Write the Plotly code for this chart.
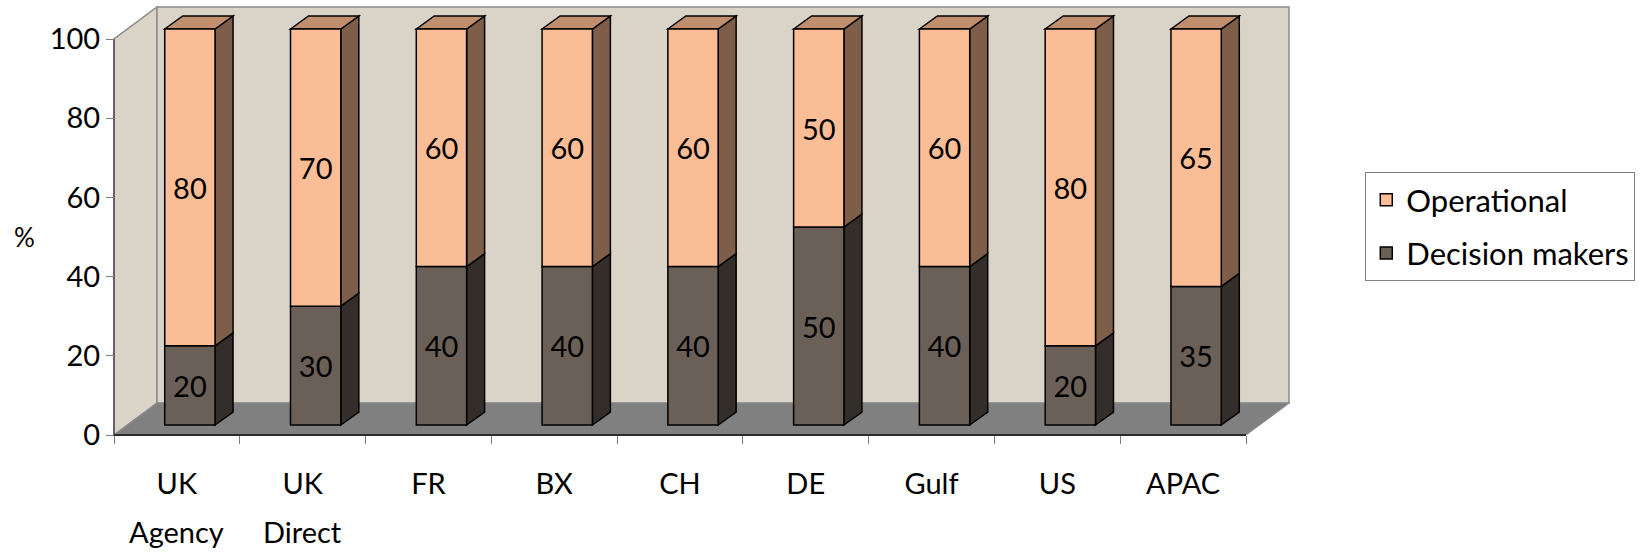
import plotly.graph_objects as go

# ---------------- data ----------------
label_line1 = ["UK", "UK", "FR", "BX", "CH", "DE", "Gulf", "US", "APAC"]
label_line2 = ["Agency", "Direct", "", "", "", "", "", "", ""]
decision_makers = [20, 30, 40, 40, 40, 50, 40, 20, 35]
operational = [80, 70, 60, 60, 60, 50, 60, 80, 65]
y_tick_vals = [0, 20, 40, 60, 80, 100]

# ---------------- style / geometry ----------------
W, H = 1644, 552
FONT = "Lato"
FS = 29
LEG_FS = 31
WALL = "#D9D3C8"
FLOOR = "#808080"
EDGE = "#8C8C8C"
OP_FRONT, OP_SIDE, OP_TOP = "#FBBD95", "#7E5E48", "#C28F6E"
DM_FRONT, DM_SIDE = "#6B6057", "#332E2A"

PX_X0 = 113.5        # pixel x of the front category boundary
PX_PER_CAT = 125.8
PX_Y0 = 435.0        # pixel y of value 0 on the front plane
PX_PER_UNIT = 3.96
WALL_DX, WALL_DY = 43, 32     # depth of the box (px)
BAR_DX, BAR_DY = 13, 10       # offset of bar front faces from the front plane (px)
SIDE_DX, SIDE_DY = 18, 13     # depth of each bar (px)
PAD = 3
BAR_WIDTH = 0.4

n = len(label_line1)
idx = list(range(n))
ymax_val = 100

wdx, wdy = WALL_DX / PX_PER_CAT, WALL_DY / PX_PER_UNIT
bdx, bdy = BAR_DX / PX_PER_CAT, BAR_DY / PX_PER_UNIT
sdx, sdy = SIDE_DX / PX_PER_CAT, SIDE_DY / PX_PER_UNIT

x_lo, x_hi = -0.5, n - 0.5
x_range = [x_lo - PAD / PX_PER_CAT, x_hi + wdx + PAD / PX_PER_CAT]
y_range = [-PAD / PX_PER_UNIT, ymax_val + wdy + PAD / PX_PER_UNIT]

left = PX_X0 - PAD
right = PX_X0 + (x_range[1] - x_lo) * PX_PER_CAT
top = PX_Y0 - y_range[1] * PX_PER_UNIT
bottom = PX_Y0 + PAD
plot_w, plot_h = right - left, bottom - top

fig = go.Figure()

dm_base = [bdy] * n
op_base = [bdy + d for d in decision_makers]

fig.add_trace(go.Bar(
    name="Decision makers", x=idx, y=decision_makers, base=dm_base,
    width=BAR_WIDTH, offset=-BAR_WIDTH / 2 + bdx,
    marker=dict(color=DM_FRONT, line=dict(color="black", width=1.5)),
    text=[str(v) for v in decision_makers], textposition="inside",
    insidetextanchor="middle", textangle=0,
    textfont=dict(family=FONT, size=FS, color="black"),
    legendgroup="dm", legendrank=2, hoverinfo="skip"))
fig.add_trace(go.Bar(
    name="Operational", x=idx, y=operational, base=op_base,
    width=BAR_WIDTH, offset=-BAR_WIDTH / 2 + bdx,
    marker=dict(color=OP_FRONT, line=dict(color="black", width=1.5)),
    text=[str(v) for v in operational], textposition="inside",
    insidetextanchor="middle", textangle=0,
    textfont=dict(family=FONT, size=FS, color="black"),
    legendgroup="op", legendrank=1, hoverinfo="skip"))


def poly(pts):
    return "M " + " L ".join(f"{x},{y}" for x, y in pts) + " Z"


shapes = []
# left wall
shapes.append(dict(type="path", layer="below", xref="x", yref="y",
                   path=poly([(x_lo, 0), (x_lo, ymax_val), (x_lo + wdx, ymax_val + wdy), (x_lo + wdx, wdy)]),
                   fillcolor=WALL, line=dict(color=EDGE, width=1.5)))
# back wall
shapes.append(dict(type="path", layer="below", xref="x", yref="y",
                   path=poly([(x_lo + wdx, wdy), (x_lo + wdx, ymax_val + wdy), (x_hi + wdx, ymax_val + wdy), (x_hi + wdx, wdy)]),
                   fillcolor=WALL, line=dict(color=EDGE, width=1.5)))
# floor
shapes.append(dict(type="path", layer="below", xref="x", yref="y",
                   path=poly([(x_lo, 0), (x_hi, 0), (x_hi + wdx, wdy), (x_lo + wdx, wdy)]),
                   fillcolor=FLOOR, line=dict(color=EDGE, width=1.2)))
# front axis lines
shapes.append(dict(type="line", layer="below", xref="x", yref="y", x0=x_lo, y0=0, x1=x_hi, y1=0,
                   line=dict(color="#2B2B2B", width=2.2)))
shapes.append(dict(type="line", layer="below", xref="x", yref="y", x0=x_lo, y0=0, x1=x_lo, y1=ymax_val,
                   line=dict(color="#3A3A3A", width=1.2)))

# bar side and top faces (derived from the data)
for i in idx:
    xr = i + BAR_WIDTH / 2 + bdx
    xl = i - BAR_WIDTH / 2 + bdx
    segs = [(dm_base[i], dm_base[i] + decision_makers[i], DM_SIDE),
            (op_base[i], op_base[i] + operational[i], OP_SIDE)]
    for b, t, col in segs:
        shapes.append(dict(type="path", layer="below", xref="x", yref="y",
                           path=poly([(xr, b), (xr + sdx, b + sdy), (xr + sdx, t + sdy), (xr, t)]),
                           fillcolor=col, line=dict(color="black", width=1.5)))
    T = op_base[i] + operational[i]
    shapes.append(dict(type="path", layer="below", xref="x", yref="y",
                       path=poly([(xl, T), (xl + sdx, T + sdy), (xr + sdx, T + sdy), (xr, T)]),
                       fillcolor=OP_TOP, line=dict(color="black", width=1.5)))

annotations = [dict(text="%", xref="paper", yref="y", x=(24 - left) / plot_w, y=ymax_val / 2,
                    showarrow=False, xanchor="center", yanchor="middle",
                    font=dict(family=FONT, size=FS - 3, color="black"))]
for i, t in enumerate(label_line2):
    if t:
        annotations.append(dict(text=t, xref="x", yref="paper", x=i, y=(bottom - 531) / plot_h,
                                showarrow=False, xanchor="center", yanchor="middle",
                                font=dict(family=FONT, size=FS, color="black")))

fig.update_layout(
    width=W, height=H,
    margin=dict(l=left, r=W - right, t=top, b=H - bottom, pad=0),
    paper_bgcolor="white", plot_bgcolor="rgba(0,0,0,0)",
    barmode="overlay",
    font=dict(family=FONT, size=FS, color="black"),
    shapes=shapes, annotations=annotations,
    showlegend=True,
    legend=dict(x=(1365 - left) / plot_w, y=(bottom - 172) / plot_h, xanchor="left", yanchor="top",
                traceorder="grouped", tracegroupgap=10,
                bordercolor="#808080", borderwidth=1, bgcolor="white",
                font=dict(family=FONT, size=LEG_FS, color="black")),
    xaxis=dict(range=x_range, anchor="free", position=PAD / plot_h,
               tickmode="array", tickvals=idx, ticktext=label_line1, ticks="",
               ticklabelstandoff=29,
               minor=dict(tickmode="array", tickvals=[i - 0.5 for i in range(n + 1)],
                          ticks="outside", ticklen=8, tickcolor="#7F7F7F", tickwidth=1, showgrid=False),
               showgrid=False, zeroline=False, showline=False, automargin=False, fixedrange=True,
               tickfont=dict(family=FONT, size=FS, color="black")),
    yaxis=dict(range=y_range, anchor="free", position=PAD / plot_w, side="left",
               tickmode="array", tickvals=y_tick_vals, ticks="outside", ticklen=8,
               tickcolor="#7F7F7F", tickwidth=1,
               showgrid=False, zeroline=False, showline=False, automargin=False, fixedrange=True,
               tickfont=dict(family=FONT, size=FS, color="black")),
)

fig.write_html("out.html")
